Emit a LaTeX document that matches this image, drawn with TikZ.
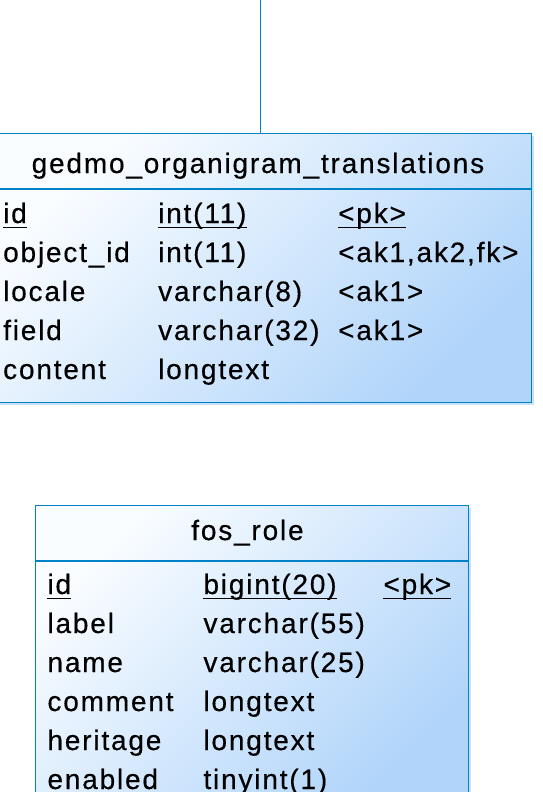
\documentclass[tikz,border=0pt]{standalone}
\usepackage{fontspec}
\setmainfont{Liberation Sans}[LetterSpace=6.5,FakeBold=0.4]
\definecolor{bordercol}{RGB}{0,130,200}
\definecolor{lightfill}{RGB}{250,253,255}
\definecolor{darkfill}{RGB}{176,212,250}
\definecolor{shadowcol}{RGB}{200,225,248}
\begin{document}
\begin{tikzpicture}[x=1pt,y=-1pt,
  tablebox/.style={draw=bordercol, line width=1.1pt, top color=lightfill, bottom color=darkfill, shading angle=45, anchor=north west, inner sep=0pt},
  cell/.style={anchor=base west, inner sep=0pt, font=\fontsize{28}{34}\selectfont, text=black},
  ttl/.style={anchor=base, inner sep=0pt, font=\fontsize{28}{34}\selectfont, text=black},
  ul/.style={line width=1.6pt, black},
  sepline/.style={draw=bordercol, line width=1.1pt},
  shadowbox/.style={fill=shadowcol, draw=none}]
\useasboundingbox (0,0) rectangle (543,792);
\fill[white] (0,0) rectangle (543,792);

% shadows
\fill[shadowbox] (0,135.5) rectangle (533.5,405);
\fill[shadowbox] (38.3,507.7) rectangle (470.7,800);

% table 1
\node[tablebox, minimum width=535.5pt, minimum height=269.5pt] (t1) at (-5,132.5) {};
\coordinate (c0) at (260.3,0);
\draw[sepline] (c0) -- (c0 |- t1.north);
\draw[sepline] (t1.west |- 0,189) -- (t1.east |- 0,189);
\node[ttl] (t1title) at (258,173) {gedmo\_organigram\_translations};

\node[cell] (a1) at (3,223) {id};
\node[cell] (a2) at (158,223) {int(11)};
\node[cell] (a3) at (338,223) {<pk>};
\node[cell] (b1) at (3,262) {object\_id};
\node[cell] (b2) at (158,262) {int(11)};
\node[cell] (b3) at (338,262) {<ak1,ak2,fk>};
\node[cell] (c1) at (3,301) {locale};
\node[cell] (c2) at (158,301) {varchar(8)};
\node[cell] (c3) at (338,301) {<ak1>};
\node[cell] (d1) at (3,340) {field};
\node[cell] (d2) at (158,340) {varchar(32)};
\node[cell] (d3) at (338,340) {<ak1>};
\node[cell] (e1) at (3,379) {content};
\node[cell] (e2) at (158,379) {longtext};
\foreach \n in {a1,a2,a3}{
  \draw[ul] ([yshift=-4.5pt]\n.base west) -- ([yshift=-4.5pt]\n.base east);
}

% table 2
\node[tablebox, minimum width=432.4pt, minimum height=300pt] (t2) at (35.3,504.7) {};
\draw[sepline] (t2.west |- 0,561) -- (t2.east |- 0,561);
\node[ttl] (t2title) at (247.5,540) {fos\_role};

\node[cell] (p1) at (47.3,594) {id};
\node[cell] (p2) at (203.3,594) {bigint(20)};
\node[cell] (p3) at (383.3,594) {<pk>};
\node[cell] (q1) at (47.3,633) {label};
\node[cell] (q2) at (203.3,633) {varchar(55)};
\node[cell] (r1) at (47.3,672) {name};
\node[cell] (r2) at (203.3,672) {varchar(25)};
\node[cell] (s1) at (47.3,711) {comment};
\node[cell] (s2) at (203.3,711) {longtext};
\node[cell] (u1) at (47.3,750) {heritage};
\node[cell] (u2) at (203.3,750) {longtext};
\node[cell] (v1) at (47.3,789) {enabled};
\node[cell] (v2) at (203.3,789) {tinyint(1)};
\foreach \n in {p1,p2,p3}{
  \draw[ul] ([yshift=-4.5pt]\n.base west) -- ([yshift=-4.5pt]\n.base east);
}
\end{tikzpicture}
\end{document}
